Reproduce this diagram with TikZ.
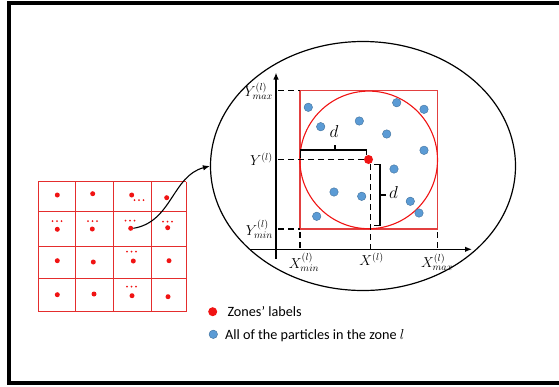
\documentclass[tikz,border=0pt]{standalone}
\usepackage[no-math]{fontspec}
\newfontfamily\legendfont{Carlito}
\usetikzlibrary{arrows.meta,shapes.geometric}
\definecolor{zonered}{RGB}{240,20,20}
\definecolor{gridred}{RGB}{228,45,45}
\definecolor{boxred}{RGB}{226,64,64}
\definecolor{ptblue}{RGB}{91,155,213}
\definecolor{ptedge}{RGB}{65,113,156}
\begin{document}
\begin{tikzpicture}[x=1pt,y=-1pt,
  zone/.style={circle,fill=zonered,inner sep=0pt,minimum size=5pt},
  bigzone/.style={circle,fill=zonered,inner sep=0pt,minimum size=9pt},
  dotlet/.style={circle,fill=zonered,inner sep=0pt,minimum size=2pt},
  particle/.style={circle,fill=ptblue,draw=ptedge,line width=0.4pt,inner sep=0pt,minimum size=8.5pt},
  gridline/.style={draw=gridred,line width=1pt},
  guide/.style={line width=1.3pt,dash pattern=on 5.5pt off 4.5pt},
  bracket/.style={line width=1.1pt},
  axis/.style={line width=1.3pt,-{Latex[length=7pt,width=5.5pt]}},
  axlabel/.style={inner sep=0pt,font=\fontsize{14}{16}\selectfont},
  dlabel/.style={inner sep=0pt,font=\fontsize{16}{18}\selectfont},
  legend/.style={inner sep=0pt,anchor=base west,font=\legendfont\fontsize{14.2}{17}\selectfont}
]
\useasboundingbox (0,0) rectangle (559,386);

% frame
\draw[line width=4pt] (562,3) -- (9,3) -- (9,382.5) -- (562,382.5);

% grid of zones
\foreach \x in {38,75,113,151.5,186} \draw[gridline] (\x,181.5) -- (\x,311.5);
\foreach \y in {181.5,211.5,246,278,311.5} \draw[gridline] (38,\y) -- (186,\y);

% zone labels
\node[zone] (z11) at (57.3,195) {};
\node[zone] (z12) at (92.7,193.7) {};
\node[zone] (z13) at (131.7,195) {};
\node[zone] (z14) at (166.7,197.7) {};
\node[zone] (z21) at (57.3,229.3) {};
\node[zone] (z22) at (92.3,229) {};
\node[zone] (z23) at (130.7,228.3) {};
\node[zone] (z24) at (167.7,227.7) {};
\node[zone] (z31) at (57.3,260.7) {};
\node[zone] (z32) at (93.3,262) {};
\node[zone] (z33) at (133.3,261) {};
\node[zone] (z34) at (169,260.7) {};
\node[zone] (z41) at (57.3,294.7) {};
\node[zone] (z42) at (94,294) {};
\node[zone] (z43) at (132,295.7) {};
\node[zone] (z44) at (168,296.7) {};

% ellipsis marks inside the zones
\foreach \x/\y in {134.5/200, 52.5/221, 88/221, 125.5/220.7, 163/221.7,
                   127/251.7, 127/286.7}
  \foreach \k in {0,1,2}
    \node[dotlet] at (\x+4.5*\k,\y) {};

% magnified zone
\node[ellipse,draw,line width=1.2pt,inner sep=0pt,minimum width=305pt,minimum height=249pt] (lens) at (363,166) {};

\draw[line width=1.1pt,-{Latex[length=7pt,width=5.5pt]}]
  (z23.east) .. controls (172,222) and (172,176) .. (lens.west);

% axes
\coordinate (ytop) at (276,72.5);
\coordinate (xright) at (472,249.3);
\draw[axis] (276,258.5) -- (ytop);
\draw[axis] (250,249.3) -- (xright);

% zone box and circle
\draw[boxred,line width=1.1pt] (300,90.7) rectangle (437.3,229);
\draw[zonered,line width=1.1pt] (368.7,159.9) circle[radius=68.8];

% particles
\foreach \x/\y in {308.3/107.3, 320.7/126.7, 359.3/121, 396.7/102.7, 424/109.3,
                   386.7/134, 424/150.3, 394/169, 334/192, 361.7/196.3,
                   410.3/201.3, 419/213, 316.7/216.3}
  \node[particle] at (\x,\y) {};

% dashed guides
\node[bigzone] (c) at (368.5,159.5) {};
\draw[guide] (278,90.7) -- (300,90.7);
\draw[guide] (278,159.5) -- (c.west);
\draw[guide] (278,229) -- (300,229);
\draw[guide] (300,232) -- (300,249.3);
\draw[guide] (370.5,164) -- (370.5,249.3);
\draw[guide] (437.3,232) -- (437.3,249.3);

% distance brackets
\draw[bracket] (300.5,158) -- (300.5,150) -- (366.7,150) -- (366.7,155);
\draw[bracket] (335,150) -- (335,144.5);
\draw[bracket] (374,164.3) -- (380,164.3) -- (380,225.7) -- (374,225.7);
\draw[bracket] (380,195) -- (386,195);
\node[dlabel] (d1) at (334,131.5) {$d$};
\node[dlabel] (d2) at (393.5,192.5) {$d$};

% axis labels
\node[axlabel,anchor=east] (ymax) at (273,91.5) {$Y^{(l)}_{max}$};
\node[axlabel,anchor=east] (yl) at (273,159.5) {$Y^{(l)}$};
\node[axlabel,anchor=east] (ymin) at (273,229.5) {$Y^{(l)}_{min}$};
\node[axlabel] (xmin) at (304,262.5) {$X^{(l)}_{min}$};
\node[axlabel] (xl) at (371.5,259) {$X^{(l)}$};
\node[axlabel] (xmax) at (437,262.5) {$X^{(l)}_{max}$};

% legend
\node[bigzone] (lg1) at (212.7,311.7) {};
\node[legend] (lt1) at (227.3,316.3) {Zones’ labels};
\node[particle] (lg2) at (213.3,334.3) {};
\node[legend] (lt2) at (225,339) {All of the particles in the zone $l$};
\end{tikzpicture}
\end{document}
